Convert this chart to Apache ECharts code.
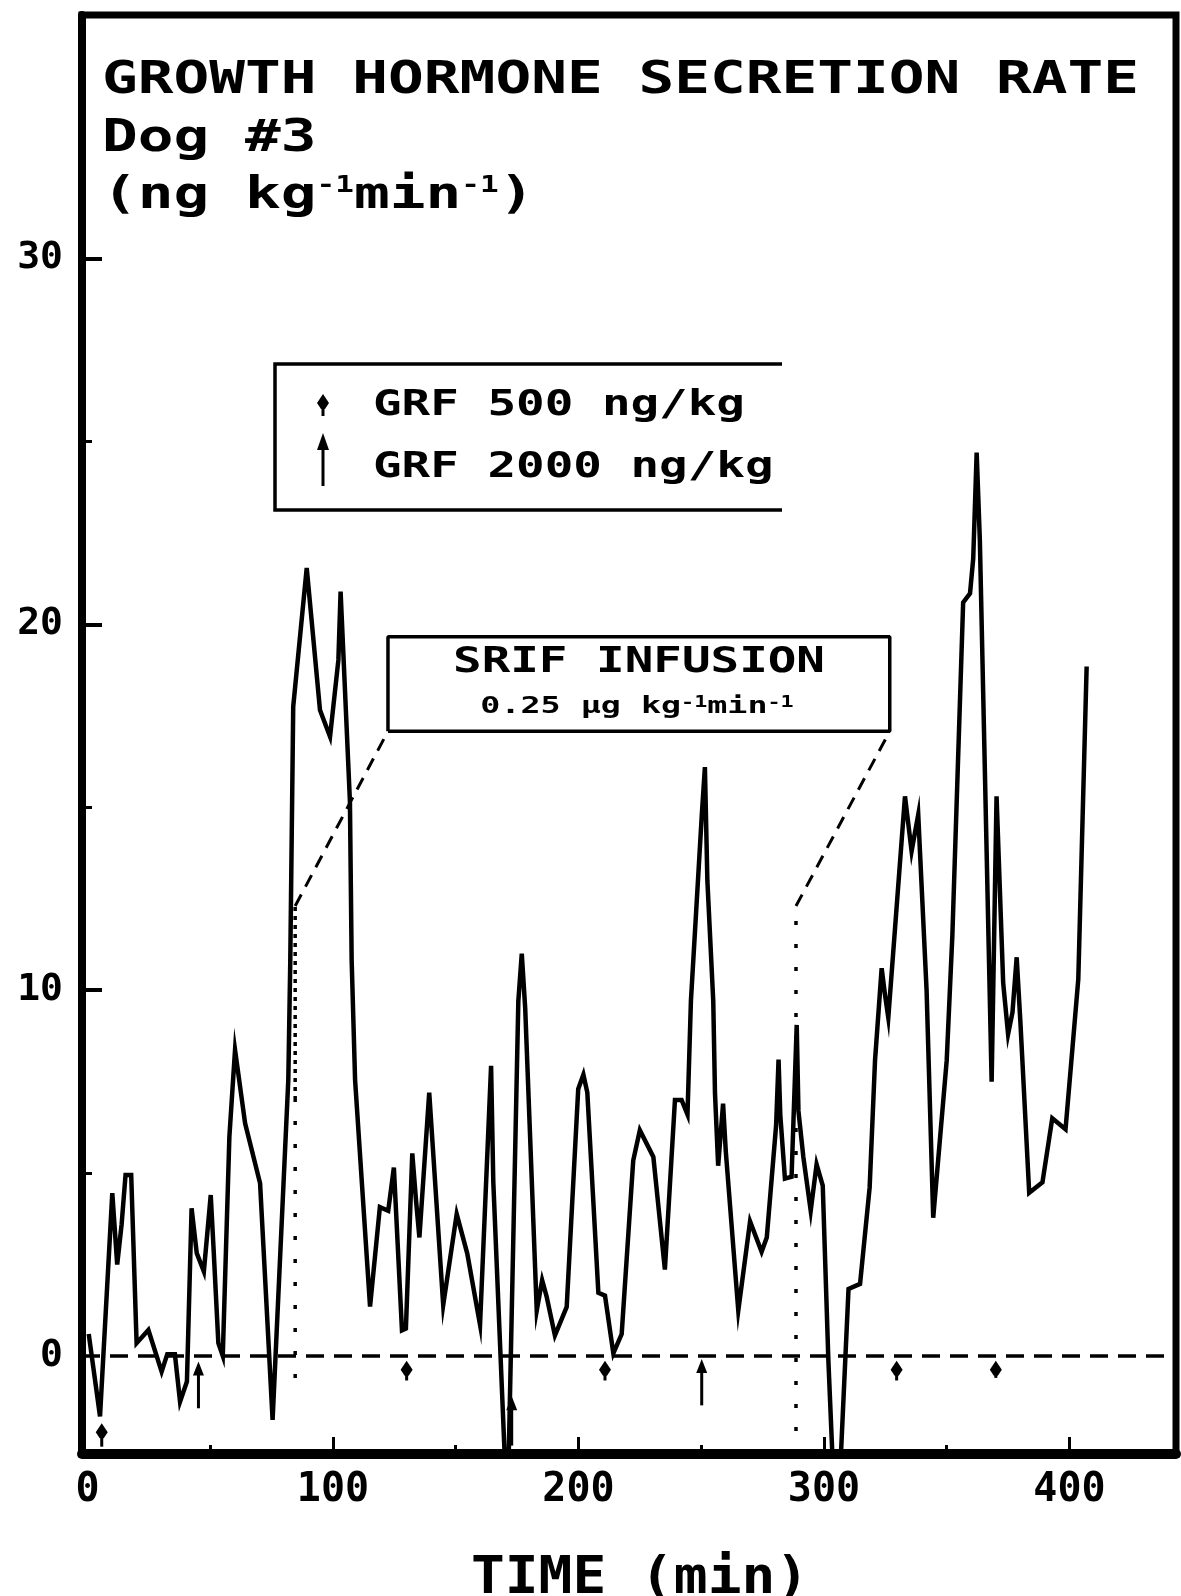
<!DOCTYPE html>
<html>
<head>
<meta charset="utf-8">
<script src="https://cdn.jsdelivr.net/npm/echarts@6/dist/echarts.min.js"></script>
<style>
  html, body { margin: 0; padding: 0; background: #fff; }
  #chart { width: 1181px; height: 1596px; }
</style>
</head>
<body>
<div id="chart"></div>
<script>
// secretion rate curve (min, ng kg-1 min-1)
const timeMin = [
  0.5, 5.1, 10.1, 12.1, 13.9, 15.5, 17.8, 20.0, 24.8, 30.2, 32.5, 35.6, 37.7, 40.5,
  42.4, 44.5, 47.4, 50.2, 51.3, 53.3, 55.1, 57.8, 60.1, 64.2, 70.3, 75.4, 81.8, 82.6,
  83.8, 87.9, 89.3, 94.7, 98.8, 102.2, 103.1, 106.9, 107.6, 109.0, 115.1, 119.1, 122.5,
  124.8, 128.1, 129.7, 132.3, 133.8, 135.2, 139.2, 144.9, 150.4, 154.7, 159.9, 164.4,
  165.3, 170.3, 171.4, 175.5, 176.9, 178.3, 183.0, 185.2, 187.0, 190.4, 195.2, 199.9,
  202.0, 203.6, 208.1, 210.8, 214.2, 217.6, 222.3, 225.0, 230.5, 235.2, 239.3, 242.0,
  244.4, 245.8, 250.2, 251.5, 252.5, 254.9, 255.6, 256.9, 258.9, 260.0, 265.1, 269.9,
  274.6, 276.7, 280.5, 281.5, 282.2, 284.1, 286.8, 288.9, 289.6, 291.6, 294.6, 297.0,
  299.5, 301.8, 303.8, 306.5, 310.0, 314.7, 318.6, 320.8, 323.5, 324.8, 326.2, 333.0,
  335.7, 338.4, 339.1, 341.8, 344.5, 350.0, 352.3, 356.7, 359.5, 360.8, 362.2, 363.5,
  368.3, 370.3, 373.0, 375.0, 376.8, 378.5, 380.0, 383.6, 389.0, 393.0, 398.4, 401.2,
  403.6, 407.0
];
const secretion = [
  0.6, -1.65, 4.45, 2.5, 3.6, 4.95, 4.95, 0.35, 0.71, -0.43, 0.05, 0.05, -1.25, -0.7,
  4.04, 2.81, 2.31, 4.4, 3.0, 0.35, 0.0, 6.0, 8.37, 6.36, 4.72, -1.75, 7.55, 10.8,
  17.75, 20.58, 21.54, 17.66, 16.93, 19.03, 20.9, 15.16, 10.83, 7.55, 1.35, 4.07, 3.97,
  5.15, 0.7, 0.75, 5.54, 4.27, 3.24, 7.2, 1.39, 3.88, 2.8, 0.85, 7.93,
  4.76, -3.3, -3.3, 9.7, 11.0, 9.5, 1.24, 2.07, 1.63, 0.56, 1.34, 7.3,
  7.69, 7.2, 1.73, 1.65, 0.07, 0.6, 5.34, 6.17, 5.44, 2.36, 7.0, 7.0,
  6.6, 9.7, 14.75, 16.1, 13.0, 9.7, 7.2, 5.2, 6.9, 5.6, 1.24, 3.68,
  2.85, 3.24, 6.3, 8.1, 6.6, 4.85, 4.9, 9.05, 6.7, 5.44, 3.97, 5.24,
  4.66, -0.13, -3.3, -3.3, 1.83, 1.97, 4.6, 8.08, 10.6, 9.9, 9.25, 15.3,
  13.8, 14.8, 13.8, 10.0, 3.78, 8.08, 11.5, 20.6, 20.85, 21.8, 24.7, 22.3,
  7.5, 15.3, 10.2, 8.8, 9.4, 10.9, 9.15, 4.46, 4.75, 6.5, 6.2, 8.4,
  10.3, 18.85
];

// axes
const xMin = -2.24, xMax = 443.4;
const yMin = -2.68, yMax = 36.66;
const xLabels = [0, 100, 200, 300, 400];
const xTickMajor = [100, 200, 300, 400];
const xTickMinor = [50, 150, 250, 350];
const yLabels = [0, 10, 20, 30];
const yTickMajor = [10, 20, 30];
const yTickMinor = [5, 15, 25];

// GRF boluses: arrow top / bottom and dose (ng/kg)
const grfTime = [5.8, 45.2, 130.0, 172.8, 210.8, 250.2, 329.6, 370.0];
const grfTop = [-1.84, -0.15, -0.13, -1.1, -0.13, -0.08, -0.13, -0.13];
const grfBottom = [-2.48, -1.43, -0.67, -2.45, -0.67, -1.35, -0.67, -0.6];
const grfDose = [500, 2000, 500, 2000, 500, 2000, 500, 500];

// SRIF infusion bracket and its label box
const srifTime = [84.6, 288.6];
const srifDotBottom = [-0.6, -2.68];
const srifDenseFrom = 7.0;
const srifBracketTop = 12.3;
const srifBoxTime = [122.4, 326.8];
const srifBoxRate = [17.08, 19.66];

const MONO = '"DejaVu Sans Mono", monospace';

const chart = echarts.init(document.getElementById('chart'));

function bracketLine(data, dash, width) {
  return {
    type: 'line',
    data: data,
    symbol: 'none',
    silent: true,
    lineStyle: { color: '#000', width: width, type: dash },
    z: 3
  };
}

function renderArrow(params, api) {
  const top = api.coord([api.value(0), api.value(1)]);
  const bottom = api.coord([api.value(0), api.value(2)]);
  const x = top[0], y = top[1];
  const big = api.value(3) === 2000;
  const head = big
    ? [[x, y], [x + 5.5, y + 14], [x - 5.5, y + 14]]
    : [[x, y], [x + 6, y + 9], [x + 2, y + 15], [x - 2, y + 15], [x - 6, y + 9]];
  return {
    type: 'group',
    children: [
      { type: 'line', shape: { x1: x, y1: y + 8, x2: x, y2: bottom[1] },
        style: { stroke: '#000', lineWidth: 3 } },
      { type: 'polygon', shape: { points: head }, style: { fill: '#000' } }
    ]
  };
}

function monoText(x, y, text, size, scaleX, extra) {
  return {
    type: 'text', x: x, y: y, scaleX: scaleX, z: 10,
    style: Object.assign({
      text: text, fontFamily: MONO, fontSize: size, fontWeight: 'bold', fill: '#000',
      verticalAlign: 'middle', align: 'left'
    }, extra || {})
  };
}

const b0 = srifBoxTime[0], b1 = srifBoxTime[1], r0 = srifBoxRate[0], r1 = srifBoxRate[1];

chart.setOption({
  animation: false,
  backgroundColor: '#fff',
  grid: {
    left: 82, top: 15, right: 5, bottom: 142,
    show: true, borderColor: '#000', borderWidth: 7, backgroundColor: 'transparent'
  },
  xAxis: [
    {
      type: 'value', min: xMin, max: xMax, position: 'bottom',
      axisLine: { show: true, onZero: false, lineStyle: { color: '#000', width: 10 } },
      axisTick: { show: true, inside: true, length: 17, customValues: xTickMajor,
        lineStyle: { color: '#000', width: 3 } },
      axisLabel: { customValues: xLabels, margin: 17, color: '#000',
        fontFamily: MONO, fontWeight: 'bold', fontSize: 40 },
      splitLine: { show: false }
    },
    {
      type: 'value', min: xMin, max: xMax, position: 'bottom',
      axisLine: { show: false, onZero: false },
      axisTick: { show: true, inside: true, length: 9, customValues: xTickMinor,
        lineStyle: { color: '#000', width: 3 } },
      axisLabel: { show: false },
      splitLine: { show: false }
    }
  ],
  yAxis: [
    {
      type: 'value', min: yMin, max: yMax, position: 'left',
      axisLine: { show: true, onZero: false, lineStyle: { color: '#000', width: 8 } },
      axisTick: { show: true, inside: true, length: 20, customValues: yTickMajor,
        lineStyle: { color: '#000', width: 4 } },
      axisLabel: { customValues: yLabels, margin: 19, color: '#000',
        fontFamily: MONO, fontWeight: 'bold', fontSize: 38 },
      splitLine: { show: false }
    },
    {
      type: 'value', min: yMin, max: yMax, position: 'left',
      axisLine: { show: false, onZero: false },
      axisTick: { show: true, inside: true, length: 10, customValues: yTickMinor,
        lineStyle: { color: '#000', width: 3 } },
      axisLabel: { show: false },
      splitLine: { show: false }
    }
  ],
  series: [
    {
      name: 'GH secretion',
      type: 'line',
      data: timeMin.map((t, i) => [t, secretion[i]]),
      symbol: 'none',
      clip: true,
      lineStyle: { color: '#000', width: 4.5, join: 'miter' },
      z: 4,
      markLine: {
        silent: true,
        symbol: 'none',
        label: { show: false },
        lineStyle: { color: '#000', width: 3.5, type: [18, 10] },
        data: [{ yAxis: 0 }]
      }
    },
    bracketLine([[srifTime[0], srifDotBottom[0]], [srifTime[0], srifDenseFrom]], [4, 19], 3.5),
    bracketLine([[srifTime[0], srifDenseFrom], [srifTime[0], srifBracketTop]], [4, 5], 3.5),
    bracketLine([[srifTime[1], srifDotBottom[1]], [srifTime[1], srifBracketTop]], [4, 19], 3.5),
    bracketLine([[srifTime[0], srifBracketTop], [b0, r0]], [13, 9], 3),
    bracketLine([[srifTime[1], srifBracketTop], [b1, r0]], [13, 9], 3),
    bracketLine([[b0, r0], [b0, r1], [b1, r1], [b1, r0], [b0, r0]], 'solid', 3.5),
    {
      type: 'custom',
      renderItem: renderArrow,
      data: grfTime.map((t, i) => [t, grfTop[i], grfBottom[i], grfDose[i]]),
      silent: true,
      z: 5
    }
  ],
  graphic: [
    monoText(102, 82, 'GROWTH HORMONE SECRETION RATE', 44, 1.35),
    monoText(102, 140, 'Dog #3', 44, 1.35),
    monoText(102, 197, '(ng kg{s|-1}min{s|-1})', 44, 1.35, {
      rich: { s: { fontFamily: MONO, fontWeight: 'bold', fontSize: 23, verticalAlign: 'top' } }
    }),
    // GRF legend
    {
      type: 'polyline', z: 10,
      shape: { points: [[782, 364], [275, 364], [275, 510], [782, 510]] },
      style: { stroke: '#000', lineWidth: 3.5, fill: null }
    },
    { type: 'polygon', z: 10, shape: { points: [[323, 394], [329, 403], [325, 409], [321, 409], [317, 403]] },
      style: { fill: '#000' } },
    { type: 'line', z: 10, shape: { x1: 323, y1: 402, x2: 323, y2: 416 }, style: { stroke: '#000', lineWidth: 3 } },
    { type: 'polygon', z: 10, shape: { points: [[323, 433], [329, 450], [317, 450]] },
      style: { fill: '#000' } },
    { type: 'line', z: 10, shape: { x1: 323, y1: 445, x2: 323, y2: 486 }, style: { stroke: '#000', lineWidth: 3 } },
    monoText(373, 406, 'GRF 500 ng/kg', 36, 1.32),
    monoText(373, 468, 'GRF 2000 ng/kg', 36, 1.32),
    // SRIF label
    monoText(639, 663, 'SRIF INFUSION', 36, 1.32, { align: 'center' }),
    monoText(637, 707, '0.25 \u00b5g kg{s|-1}min{s|-1}', 23, 1.45, {
      align: 'center',
      rich: { s: { fontFamily: MONO, fontWeight: 'bold', fontSize: 15, verticalAlign: 'top' } }
    }),
    // x axis title
    monoText(471, 1579, 'TIME (min)', 52, 1.08)
  ]
});
</script>
</body>
</html>
